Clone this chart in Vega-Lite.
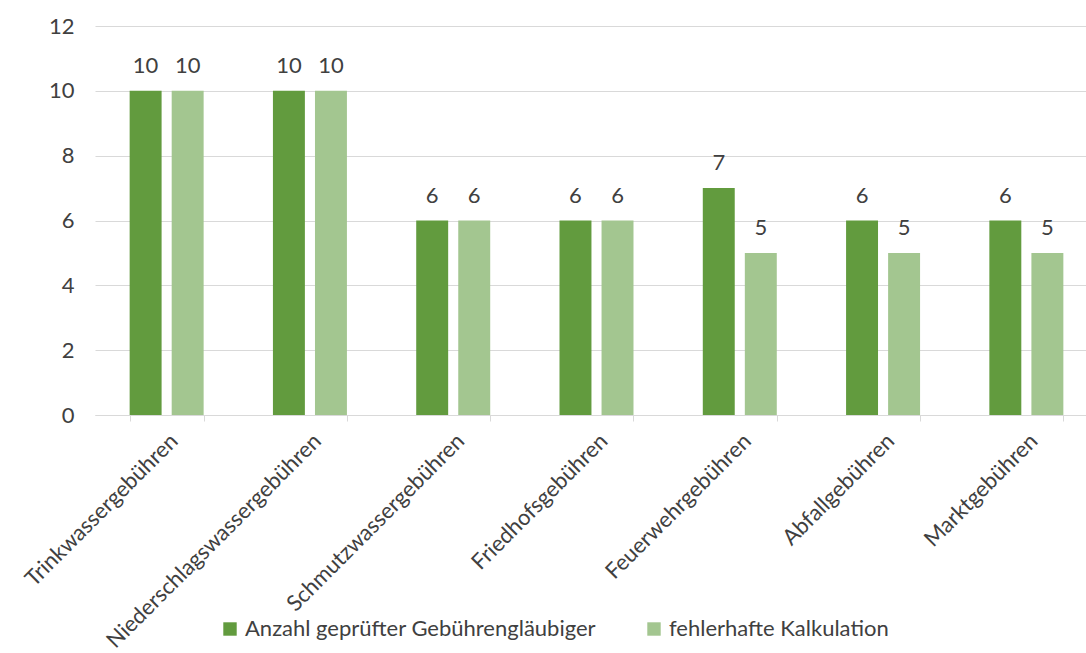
{
  "$schema": "https://vega.github.io/schema/vega-lite/v6.json",
  "width": 1003,
  "height": 389,
  "autosize": {"type": "none"},
  "padding": {"left": 95, "top": 26, "right": 0, "bottom": 238},
  "background": "white",
  "config": {
    "view": {"stroke": null},
    "font": "Lato",
    "axis": {"labelFont": "Lato", "labelColor": "#404040", "labelFontSize": 22, "titleFont": "Lato", "labelLimit": 0},
    "legend": {"labelFont": "Lato", "labelLimit": 0}
  },
  "data": {
    "values": [
      {"cat": "Trinkwassergebühren", "series": "Anzahl geprüfter Gebührengläubiger", "value": 10},
      {"cat": "Trinkwassergebühren", "series": "fehlerhafte Kalkulation", "value": 10},
      {"cat": "Niederschlagswassergebühren", "series": "Anzahl geprüfter Gebührengläubiger", "value": 10},
      {"cat": "Niederschlagswassergebühren", "series": "fehlerhafte Kalkulation", "value": 10},
      {"cat": "Schmutzwassergebühren", "series": "Anzahl geprüfter Gebührengläubiger", "value": 6},
      {"cat": "Schmutzwassergebühren", "series": "fehlerhafte Kalkulation", "value": 6},
      {"cat": "Friedhofsgebühren", "series": "Anzahl geprüfter Gebührengläubiger", "value": 6},
      {"cat": "Friedhofsgebühren", "series": "fehlerhafte Kalkulation", "value": 6},
      {"cat": "Feuerwehrgebühren", "series": "Anzahl geprüfter Gebührengläubiger", "value": 7},
      {"cat": "Feuerwehrgebühren", "series": "fehlerhafte Kalkulation", "value": 5},
      {"cat": "Abfallgebühren", "series": "Anzahl geprüfter Gebührengläubiger", "value": 6},
      {"cat": "Abfallgebühren", "series": "fehlerhafte Kalkulation", "value": 5},
      {"cat": "Marktgebühren", "series": "Anzahl geprüfter Gebührengläubiger", "value": 6},
      {"cat": "Marktgebühren", "series": "fehlerhafte Kalkulation", "value": 5}
    ]
  },
  "encoding": {
    "x": {
      "field": "cat", "type": "nominal", "sort": null,
      "scale": {"paddingInner": 0.4836, "paddingOuter": 0.2418},
      "axis": {
        "title": null, "labelAngle": -45, "domainColor": "#d9d9d9", "tickColor": "#d9d9d9",
        "tickBand": "extent", "tickSize": 6, "labelPadding": 9, "grid": false
      }
    },
    "xOffset": {"field": "series", "type": "nominal", "sort": null, "scale": {"paddingInner": 0.24, "paddingOuter": 0}},
    "y": {
      "field": "value", "type": "quantitative",
      "scale": {"domain": [0, 12]},
      "axis": {
        "title": null, "values": [0, 2, 4, 6, 8, 10, 12], "grid": true, "gridColor": "#d9d9d9",
        "domain": false, "ticks": false, "labelPadding": 21
      }
    }
  },
  "layer": [
    {
      "mark": {"type": "bar"},
      "encoding": {
        "color": {
          "field": "series", "type": "nominal", "sort": null,
          "scale": {"domain": ["Anzahl geprüfter Gebührengläubiger", "fehlerhafte Kalkulation"], "range": ["#629b3e", "#a3c690"]},
          "legend": {
            "title": null, "orient": "none", "direction": "horizontal", "legendX": 124, "legendY": 592,
            "symbolType": "square", "symbolSize": 180, "symbolStrokeWidth": 0, "labelFontSize": 22, "labelColor": "#404040",
            "labelOffset": 4, "columnPadding": 46
          }
        }
      }
    },
    {
      "mark": {"type": "text", "dy": -18, "baseline": "alphabetic", "fontSize": 22, "color": "#404040", "font": "Lato"},
      "encoding": {"text": {"field": "value", "type": "quantitative"}}
    }
  ]
}
